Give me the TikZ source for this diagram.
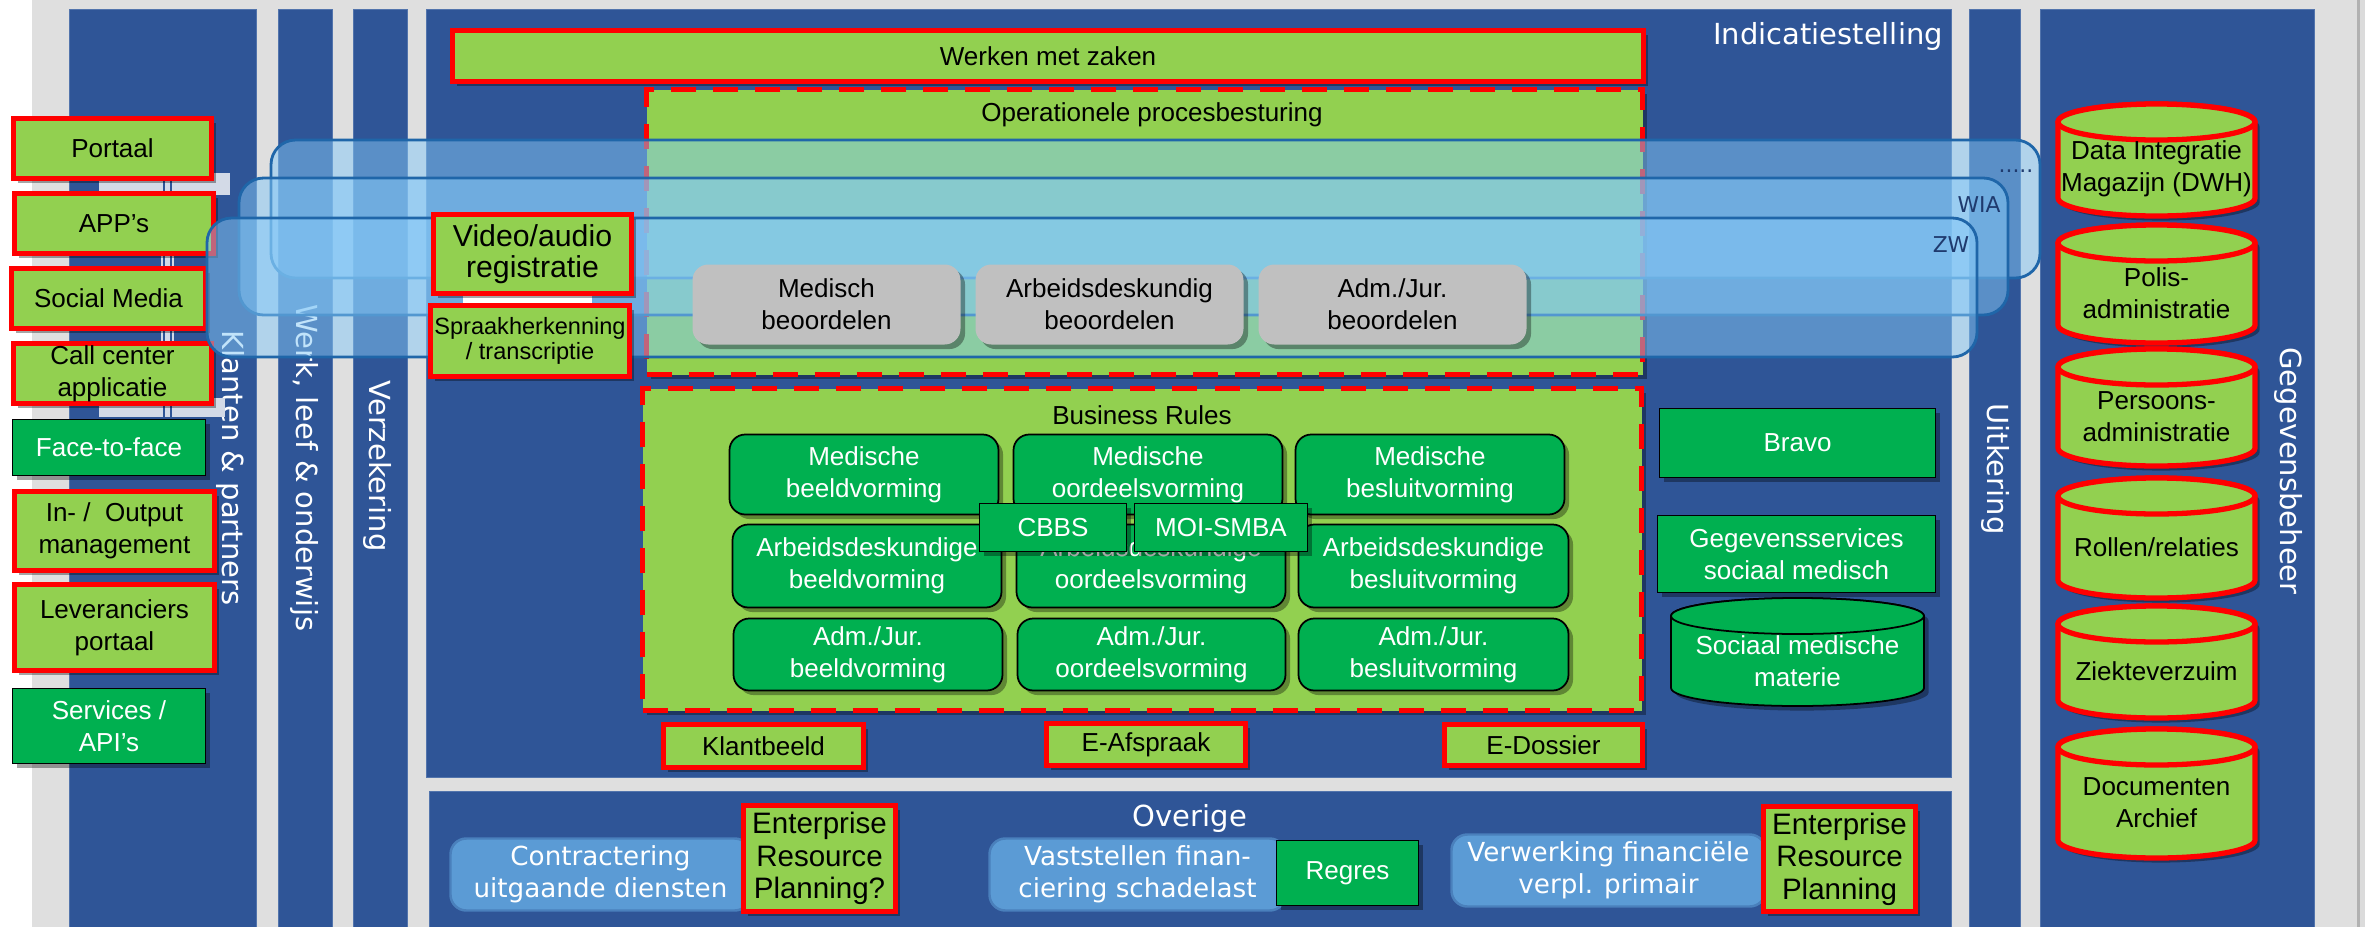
\documentclass[tikz,border=0pt]{standalone}
\usepackage{fontspec}
\setmainfont{Liberation Sans}
\newfontfamily\verd{DejaVu Sans}
\usetikzlibrary{shadows}

\definecolor{dblue}{HTML}{2F5597}
\definecolor{cborder}{HTML}{5274AC}
\definecolor{bggrey}{HTML}{DFDFDF}
\definecolor{lgreen}{HTML}{92D050}
\definecolor{dgreen}{HTML}{00B050}
\definecolor{rred}{HTML}{FF0000}
\definecolor{gboxc}{HTML}{C0C0C0}
\definecolor{lblue}{HTML}{5B9BD5}
\definecolor{lbborder}{HTML}{4A80BC}
\definecolor{lanefill}{HTML}{85C9F7}
\definecolor{laneborder}{HTML}{1F66A9}
\definecolor{navy}{HTML}{1F3A6E}
\definecolor{hidc}{HTML}{D3DAE7}

\newcommand\fsar{\fontsize{7.4}{9}\selectfont}
\newcommand\fsbig{\fontsize{8.6}{8.8}\selectfont}
\newcommand\fssmall{\fontsize{6.7}{7.2}\selectfont}
\newcommand\fserp{\fontsize{8.4}{9.2}\selectfont}
\newcommand\fslab{\verd\fontsize{8.25}{10}\selectfont}
\newcommand\fstxt{\verd\fontsize{7.45}{9.1}\selectfont}
\newcommand\fslane{\verd\fontsize{6.2}{7}\selectfont}

\newcommand\Bx[7]{\node[#2, minimum width={(#5-#3-3)*0.01cm}, minimum height={(#6-#4-3)*0.01cm}] (#1) at ({(#3+#5)/2},{(#4+#6)/2}) {#7};}

\newcommand\Cyl[8]{%
  \path[#2, shad] (#3,{#4+18}) -- (#3,{#6-18}) arc[start angle=180, end angle=0, x radius={(#5-#3)/2}, y radius=18] -- (#5,{#4+18}) arc[start angle=0, end angle=-180, x radius={(#5-#3)/2}, y radius=18] -- cycle;
  \path[#2] ({(#3+#5)/2},{#4+18}) ellipse[x radius={(#5-#3)/2}, y radius=18];
  \node[text=#8] (#1) at ({(#3+#5)/2},{(#4+18+#6)/2}) {#7};
}

\tikzset{
  every node/.style={inner sep=0pt, outer sep=0pt, align=center, font=\fsar},
  shad/.style={drop shadow={shadow xshift=1.3pt, shadow yshift=-1.3pt, opacity=0.35, fill=black}},
  col/.style={fill=dblue, draw=cborder, line width=0.5pt},
  collabel/.style={text=white, font=\fslab, rotate=-90},
  redbox/.style={fill=lgreen, draw=rred, line width=1.42pt, shad},
  gbox/.style={fill=dgreen, draw=black, line width=0.5pt, text=white, shad},
  rgbox/.style={gbox, rounded corners=4.5pt},
  greybox/.style={fill=gboxc, rounded corners=4.5pt, shad},
  lbbox/.style={fill=lblue, draw=lbborder, line width=0.7pt, rounded corners=4.5pt, text=white, font=\fstxt},
  lane/.style={fill=lanefill, fill opacity=0.5, draw=laneborder, line width=0.8pt, rounded corners=7pt},
  lanelab/.style={text=navy, font=\fslane},
  dashbox/.style={fill=lgreen, draw=rred, line width=1.15pt, dash pattern=on 0.25cm off 0.17cm, shad},
  redcyl/.style={fill=lgreen, draw=rred, line width=1.5pt},
  greencyl/.style={fill=dgreen, draw=black, line width=0.5pt},
}

\begin{document}
\begin{tikzpicture}[x=0.01cm, y=-0.01cm]
\useasboundingbox (0,0) rectangle (2374,927);
% background
\fill[white] (0,0) rectangle (2374,927);
\fill[bggrey] (32,0) rectangle (2357,927);
\fill[black!30] (2357,0) rectangle (2360,927);
\fill[black!14] (2360,0) rectangle (2365,927);

% columns
\Bx{colK}{col}{68}{8}{258}{935}{}
\Bx{colW}{col}{277}{8}{334}{935}{}
\Bx{colV}{col}{352}{8}{409}{935}{}
\Bx{colI}{col}{425}{8}{1953}{779}{}
\Bx{colO}{col}{428}{790}{1953}{935}{}
\Bx{colU}{col}{1968}{8}{2022}{935}{}
\Bx{colG}{col}{2039}{8}{2316}{935}{}

% column labels
\node[collabel] (lK) at (231,468) {Klanten \& partners};
\node[collabel] (lW) at (305,468) {Werk, leef \& onderwijs};
\node[collabel] (lV) at (378,466) {Verzekering};
\node[collabel] (lU) at (1995,469) {Uitkering};
\node[collabel] (lG) at (2288,471) {Gegevensbeheer};
\node[text=white, font=\fslab] (lI) at (1828,36) {Indicatiestelling};
\node[text=white, font=\fslab] (lO) at (1190,818) {Overige};

% hidden light shapes behind left boxes
\fill[hidc] (99,173) rectangle (230,195);
\fill[hidc] (99,398) rectangle (225,417);
\fill[hidc] (161,173) rectangle (174,417);
\draw[dblue, line width=0.4pt] (164,173) -- (164,417) (171,173) -- (171,417);

% left boxes
\Bx{portaal}{redbox}{12}{117}{213}{180}{Portaal}
\Bx{apps}{redbox}{13}{192}{215}{255}{APP’s}
\Bx{social}{redbox}{10}{267}{207}{330}{Social Media}
\Bx{callc}{redbox}{12}{342}{213}{405}{Call center\\applicatie}
\Bx{f2f}{gbox}{11}{418}{207}{477}{Face-to-face}
\Bx{inout}{redbox}{13}{490}{216}{572}{In- /\ \ Output\\management}
\Bx{lev}{redbox}{13}{583}{216}{672}{Leveranciers\\portaal}
\Bx{api}{gbox}{11}{687}{207}{765}{Services /\\API’s}

% Indicatiestelling content
\Bx{wmz}{redbox}{451}{29}{1645}{83}{Werken met zaken}
\Bx{opb}{dashbox}{645}{88}{1644}{376}{}
\node (opbl) at (1152,115) {Operationele procesbesturing};
\Bx{brb}{dashbox}{641}{387}{1643}{712}{}
\node (brl) at (1142,415) {Business Rules};

% swimlanes
\draw[lane] (271,140) rectangle (2040,278);
\draw[lane] (239,178) rectangle (2008,315);
\draw[lane] (207,218) rectangle (1977,357);
\node[lanelab] (ldots) at (2016,171) {.....};
\node[lanelab] (lwia) at (1979,205) {WIA};
\node[lanelab] (lzw) at (1951,245) {ZW};

% beoordelen
\Bx{gMb}{greybox}{691}{263}{962}{346}{Medisch\\beoordelen}
\Bx{gAb}{greybox}{974}{263}{1245}{346}{Arbeidsdeskundig\\beoordelen}
\Bx{gJb}{greybox}{1257}{263}{1528}{346}{Adm./Jur.\\beoordelen}

% video / spraak
\fill[white] (463,294) rectangle (592,305);
\Bx{vid}{redbox, font=\fsbig}{432}{213}{633}{295}{Video/audio\\registratie}
\Bx{spr}{redbox, font=\fssmall}{429}{304}{631}{378}{Spraakherkenning\\/ transcriptie}

% business rules
\Bx{mb}{rgbox}{728}{433}{1000}{516}{Medische\\beeldvorming}
\Bx{mo}{rgbox}{1012}{433}{1284}{516}{Medische\\oordeelsvorming}
\Bx{ms}{rgbox}{1294}{433}{1566}{516}{Medische\\besluitvorming}
\Bx{ab}{rgbox}{731}{523}{1003}{609}{Arbeidsdeskundige\\beeldvorming}
\Bx{ao}{rgbox}{1015}{523}{1287}{609}{Arbeidsdeskundige\\oordeelsvorming}
\Bx{as}{rgbox}{1297}{523}{1570}{609}{Arbeidsdeskundige\\besluitvorming}
\Bx{jb}{rgbox}{732}{617}{1004}{692}{Adm./Jur.\\beeldvorming}
\Bx{jo}{rgbox}{1016}{617}{1287}{692}{Adm./Jur.\\oordeelsvorming}
\Bx{js}{rgbox}{1297}{617}{1570}{692}{Adm./Jur.\\besluitvorming}
\Bx{cbbs}{gbox}{978}{502}{1128}{553}{CBBS}
\Bx{moi}{gbox}{1133}{502}{1309}{553}{MOI-SMBA}

% right of business rules
\Bx{bravo}{gbox}{1658}{407}{1937}{479}{Bravo}
\Bx{gss}{gbox}{1656}{514}{1937}{594}{Gegevensservices\\sociaal medisch}
\Cyl{smm}{greencyl}{1671}{598}{1924}{706}{Sociaal medische\\materie}{white}

% E-boxes
\Bx{kb}{redbox}{662}{723}{865}{769}{Klantbeeld}
\Bx{ea}{redbox}{1045}{722}{1247}{767}{E-Afspraak}
\Bx{ed}{redbox}{1443}{723}{1644}{767}{E-Dossier}

% Overige
\Bx{cud}{lbbox}{449}{837}{752}{912}{Contractering\\uitgaande diensten}
\Bx{erp1}{redbox, font=\fserp}{742}{804}{897}{913}{Enterprise\\Resource\\Planning?}
\Bx{vfs}{lbbox}{988}{837}{1287}{912}{Vaststellen finan-\\ciering schadelast}
\Bx{regres}{gbox}{1275}{839}{1420}{907}{Regres}
\Bx{vfv}{lbbox}{1450}{833}{1767}{908}{Verwerking financiële\\verpl. primair}
\Bx{erp2}{redbox, font=\fserp}{1762}{805}{1917}{913}{Enterprise\\Resource\\Planning}

% Gegevensbeheer cylinders
\Cyl{dwh}{redcyl}{2058}{104}{2255}{216}{Data Integratie\\Magazijn (DWH)}{black}
\Cyl{polis}{redcyl}{2058}{225}{2255}{343}{Polis-\\administratie}{black}
\Cyl{pers}{redcyl}{2058}{349}{2255}{466}{Persoons-\\administratie}{black}
\Cyl{rol}{redcyl}{2058}{478}{2255}{598}{Rollen/relaties}{black}
\Cyl{ziek}{redcyl}{2058}{606}{2255}{718}{Ziekteverzuim}{black}
\Cyl{doc}{redcyl}{2058}{729}{2255}{858}{Documenten\\Archief}{black}
\end{tikzpicture}
\end{document}
